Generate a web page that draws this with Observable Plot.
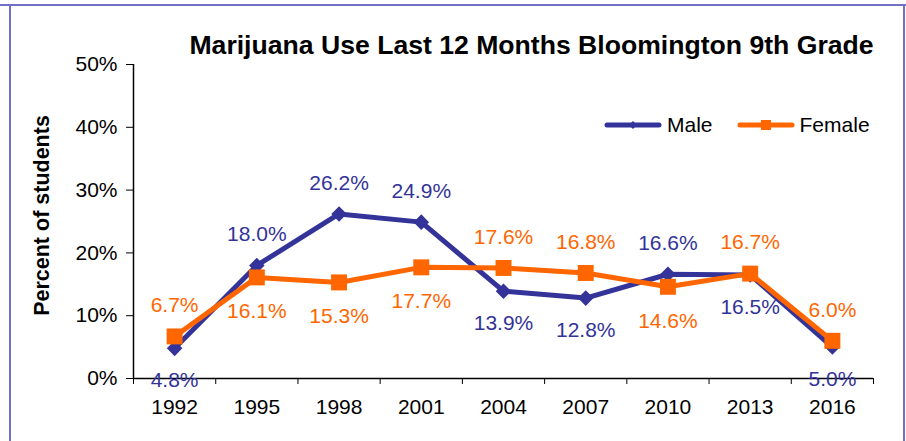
<!DOCTYPE html>
<html>
<head>
<meta charset="utf-8">
<script src="https://cdn.jsdelivr.net/npm/d3@7"></script>
<script src="https://cdn.jsdelivr.net/npm/@observablehq/plot@0.6"></script>
<style>
  html, body { margin: 0; padding: 0; background: #fff; }
  #wrap { position: relative; width: 906px; height: 441px; overflow: hidden; font-family: "Liberation Sans", Arial, sans-serif; }
  .bl { position: absolute; background: #7070c4; }
  #legend { position: absolute; left: 604px; top: 113px; display: flex; align-items: center; font-size: 21px; color: #000; }
  #legend .item { display: flex; align-items: center; }
  #legend svg { display: block; }
</style>
</head>
<body>
<div id="wrap"></div>
<script>
const title = "Marijuana Use Last 12 Months Bloomington 9th Grade";
const yLabel = "Percent of students";
const years = ["1992", "1995", "1998", "2001", "2004", "2007", "2010", "2013", "2016"];
const male = [4.8, 18.0, 26.2, 24.9, 13.9, 12.8, 16.6, 16.5, 5.0];
const female = [6.7, 16.1, 15.3, 17.7, 17.6, 16.8, 14.6, 16.7, 6.0];
const yTicks = [0, 10, 20, 30, 40, 50];
const seriesNames = ["Male", "Female"];

const maleColor = "#333399";
const femaleColor = "#ff6600";

const rows = (vals, other, name) => vals.map((v, i) => ({
  i: i + 0.5, year: years[i], value: v, series: name, above: v >= other[i]
}));
const maleRows = rows(male, female, "Male");
const femaleRows = rows(female, male, "Female");

const font = "Liberation Sans, Arial, sans-serif";
const fmt = d => d.value.toFixed(1) + "%";

const chart = Plot.plot({
  width: 906,
  height: 441,
  marginLeft: 133,
  marginRight: 33,
  marginTop: 64,
  marginBottom: 63,
  style: { fontFamily: font, background: "transparent", overflow: "visible" },
  x: { domain: [0, years.length] },
  y: { domain: [0, 50] },
  marks: [
    // axes
    Plot.axisY({ ticks: yTicks, tickSize: 7, tickPadding: 9, tickFormat: d => d + "%", fontSize: 21, color: "#000", label: null }),
    Plot.axisX({ ticks: d3.range(0, years.length + 1), tickSize: 6, tickFormat: () => "", label: null, stroke: "#000" }),
    Plot.axisX({ ticks: years.map((y, i) => i + 0.5), tickSize: 0, tickPadding: 21, tickFormat: d => years[Math.floor(d)], fontSize: 21, color: "#000", label: null }),
    Plot.ruleX([0], { stroke: "#000", strokeWidth: 1.5 }),
    Plot.ruleY([0], { stroke: "#000", strokeWidth: 1.5 }),
    // male
    Plot.line(maleRows, { x: "i", y: "value", stroke: maleColor, strokeWidth: 5 }),
    Plot.dot(maleRows, { x: "i", y: "value", symbol: "diamond2", r: 7, fill: maleColor, stroke: null }),
    // female
    Plot.line(femaleRows, { x: "i", y: "value", stroke: femaleColor, strokeWidth: 5 }),
    Plot.dot(femaleRows, { x: "i", y: "value", symbol: "square", r: 9, fill: femaleColor, stroke: null }),
    // data labels
    Plot.text(maleRows.filter(d => d.above), { x: "i", y: "value", text: fmt, dy: -31, fill: maleColor, fontSize: 21 }),
    Plot.text(maleRows.filter(d => !d.above), { x: "i", y: "value", text: fmt, dy: 32, fill: maleColor, fontSize: 21 }),
    Plot.text(femaleRows.filter(d => d.above), { x: "i", y: "value", text: fmt, dy: -31, fill: femaleColor, fontSize: 21 }),
    Plot.text(femaleRows.filter(d => !d.above), { x: "i", y: "value", text: fmt, dy: 34, fill: femaleColor, fontSize: 21 }),
    // title
    Plot.text([title], { frameAnchor: "top", lineAnchor: "middle", textAnchor: "middle", text: d => d, dx: 28, dy: -19, fontSize: 26.6, fontWeight: "bold", fill: "#000" }),
    // y label
    Plot.text([yLabel], { frameAnchor: "left", lineAnchor: "middle", textAnchor: "middle", text: d => d, dx: -91, dy: -6, rotate: -90, fontSize: 21.5, fontWeight: "bold", fill: "#000" })
  ]
});

const wrap = document.getElementById("wrap");
chart.style.position = "absolute";
chart.style.left = "0px";
chart.style.top = "0px";
wrap.appendChild(chart);

// legend
const legend = document.createElement("div");
legend.id = "legend";
function swatch(color, shape) {
  const s = d3.create("svg").attr("width", 58).attr("height", 16);
  s.append("line").attr("x1", 3).attr("x2", 55).attr("y1", 8).attr("y2", 8)
    .attr("stroke", color).attr("stroke-width", 5).attr("stroke-linecap", "round");
  if (shape === "diamond") s.append("path").attr("d", "M29,4L33,8L29,12L25,8Z").attr("fill", color);
  else s.append("rect").attr("x", 24).attr("y", 3).attr("width", 10).attr("height", 10).attr("fill", color);
  return s.node();
}
seriesNames.forEach((name, k) => {
  const item = document.createElement("div");
  item.className = "item";
  item.style.marginRight = k === 0 ? "24px" : "0";
  item.appendChild(swatch(k === 0 ? maleColor : femaleColor, k === 0 ? "diamond" : "square"));
  const t = document.createElement("span");
  t.textContent = name;
  t.style.marginLeft = "5px";
  item.appendChild(t);
  legend.appendChild(item);
});
wrap.appendChild(legend);

// outer frame lines
[["0px", "4px", "906px", "2px"], ["9px", "4px", "2px", "437px"], ["903px", "4px", "2px", "437px"]].forEach(([l, t, w, h]) => {
  const d = document.createElement("div");
  d.className = "bl";
  Object.assign(d.style, { left: l, top: t, width: w, height: h });
  wrap.appendChild(d);
});
</script>
</body>
</html>
